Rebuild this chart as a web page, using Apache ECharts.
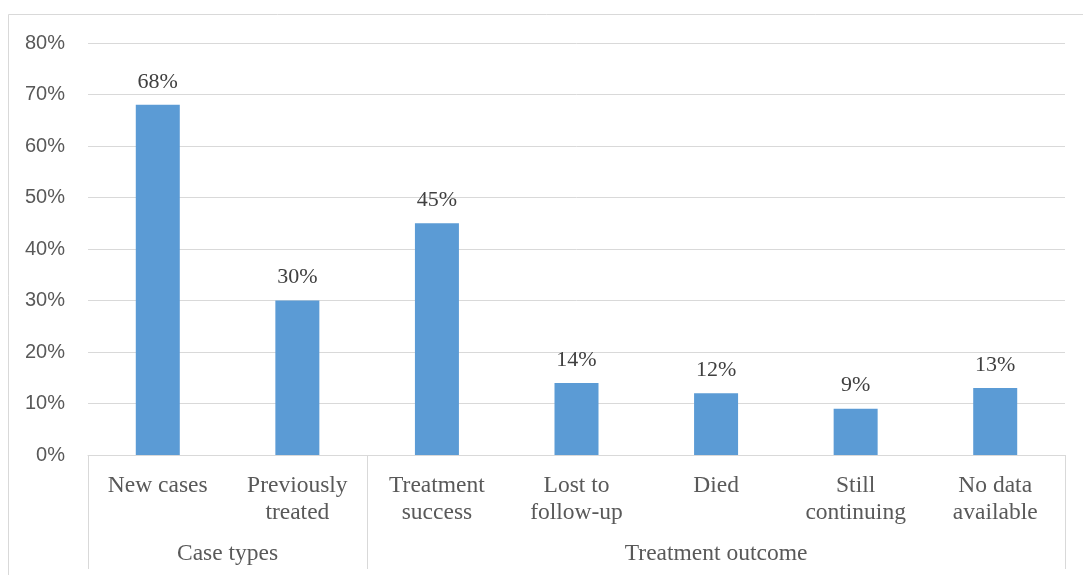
<!DOCTYPE html>
<html>
<head>
<meta charset="utf-8">
<script src="https://cdn.jsdelivr.net/npm/echarts@6/dist/echarts.min.js"></script>
<style>html,body{margin:0;padding:0;background:#fff;}#c{width:1083px;height:575px;}</style>
</head>
<body>
<div id="c"></div>
<script>
const categories = ['New cases', 'Previously\ntreated', 'Treatment\nsuccess', 'Lost to\nfollow-up', 'Died', 'Still\ncontinuing', 'No data\navailable'];
const values = [68, 30, 45, 14, 12, 9, 13];
const groups = ['Case types', 'Treatment outcome'];
const groupCenters = [1, 4.5];
const groupBounds = [0, 2, 7];

const chart = echarts.init(document.getElementById('c'), null, {renderer: 'canvas'});
const serif = '"Liberation Serif", "Times New Roman", serif';
const gray = '#595959';
const lineC = '#d9d9d9';
chart.setOption({
  animation: false,
  backgroundColor: '#fff',
  graphic: [{
    type: 'rect', shape: {x: 8.5, y: 14.5, width: 1100, height: 600},
    style: {fill: null, stroke: lineC, lineWidth: 1}, silent: true, z: -1
  }],
  grid: {left: 88, right: 18, top: 43, bottom: 120},
  xAxis: [{
    type: 'category',
    data: categories,
    axisLine: {show: true, lineStyle: {color: lineC, width: 1}},
    axisTick: {show: false},
    axisLabel: {color: gray, fontFamily: serif, fontSize: 23.5, lineHeight: 27, margin: 17, interval: 0}
  }, {
    type: 'value',
    position: 'bottom',
    min: 0, max: 7,
    axisLine: {show: false},
    splitLine: {show: false},
    axisTick: {show: true, customValues: groupBounds, length: 114, lineStyle: {color: lineC, width: 1}},
    axisLabel: {
      show: true, customValues: groupCenters, margin: 85,
      color: gray, fontFamily: serif, fontSize: 23.5, lineHeight: 27,
      formatter: function (v) { const i = groupCenters.indexOf(v); return i >= 0 ? groups[i] : ''; }
    }
  }],
  yAxis: {
    type: 'value', min: 0, max: 80, interval: 10,
    axisLine: {show: false}, axisTick: {show: false},
    splitLine: {lineStyle: {color: lineC, width: 1}},
    axisLabel: {formatter: '{value}%', color: gray, fontFamily: '"Liberation Sans", Arial, sans-serif', fontSize: 20, margin: 23}
  },
  series: [{
    type: 'bar',
    xAxisIndex: 0,
    data: values,
    barWidth: 44,
    itemStyle: {color: '#5b9bd5'},
    label: {show: true, position: 'top', distance: 12, formatter: '{c}%', color: '#404040', fontFamily: serif, fontSize: 22}
  }]
});
</script>
</body>
</html>
